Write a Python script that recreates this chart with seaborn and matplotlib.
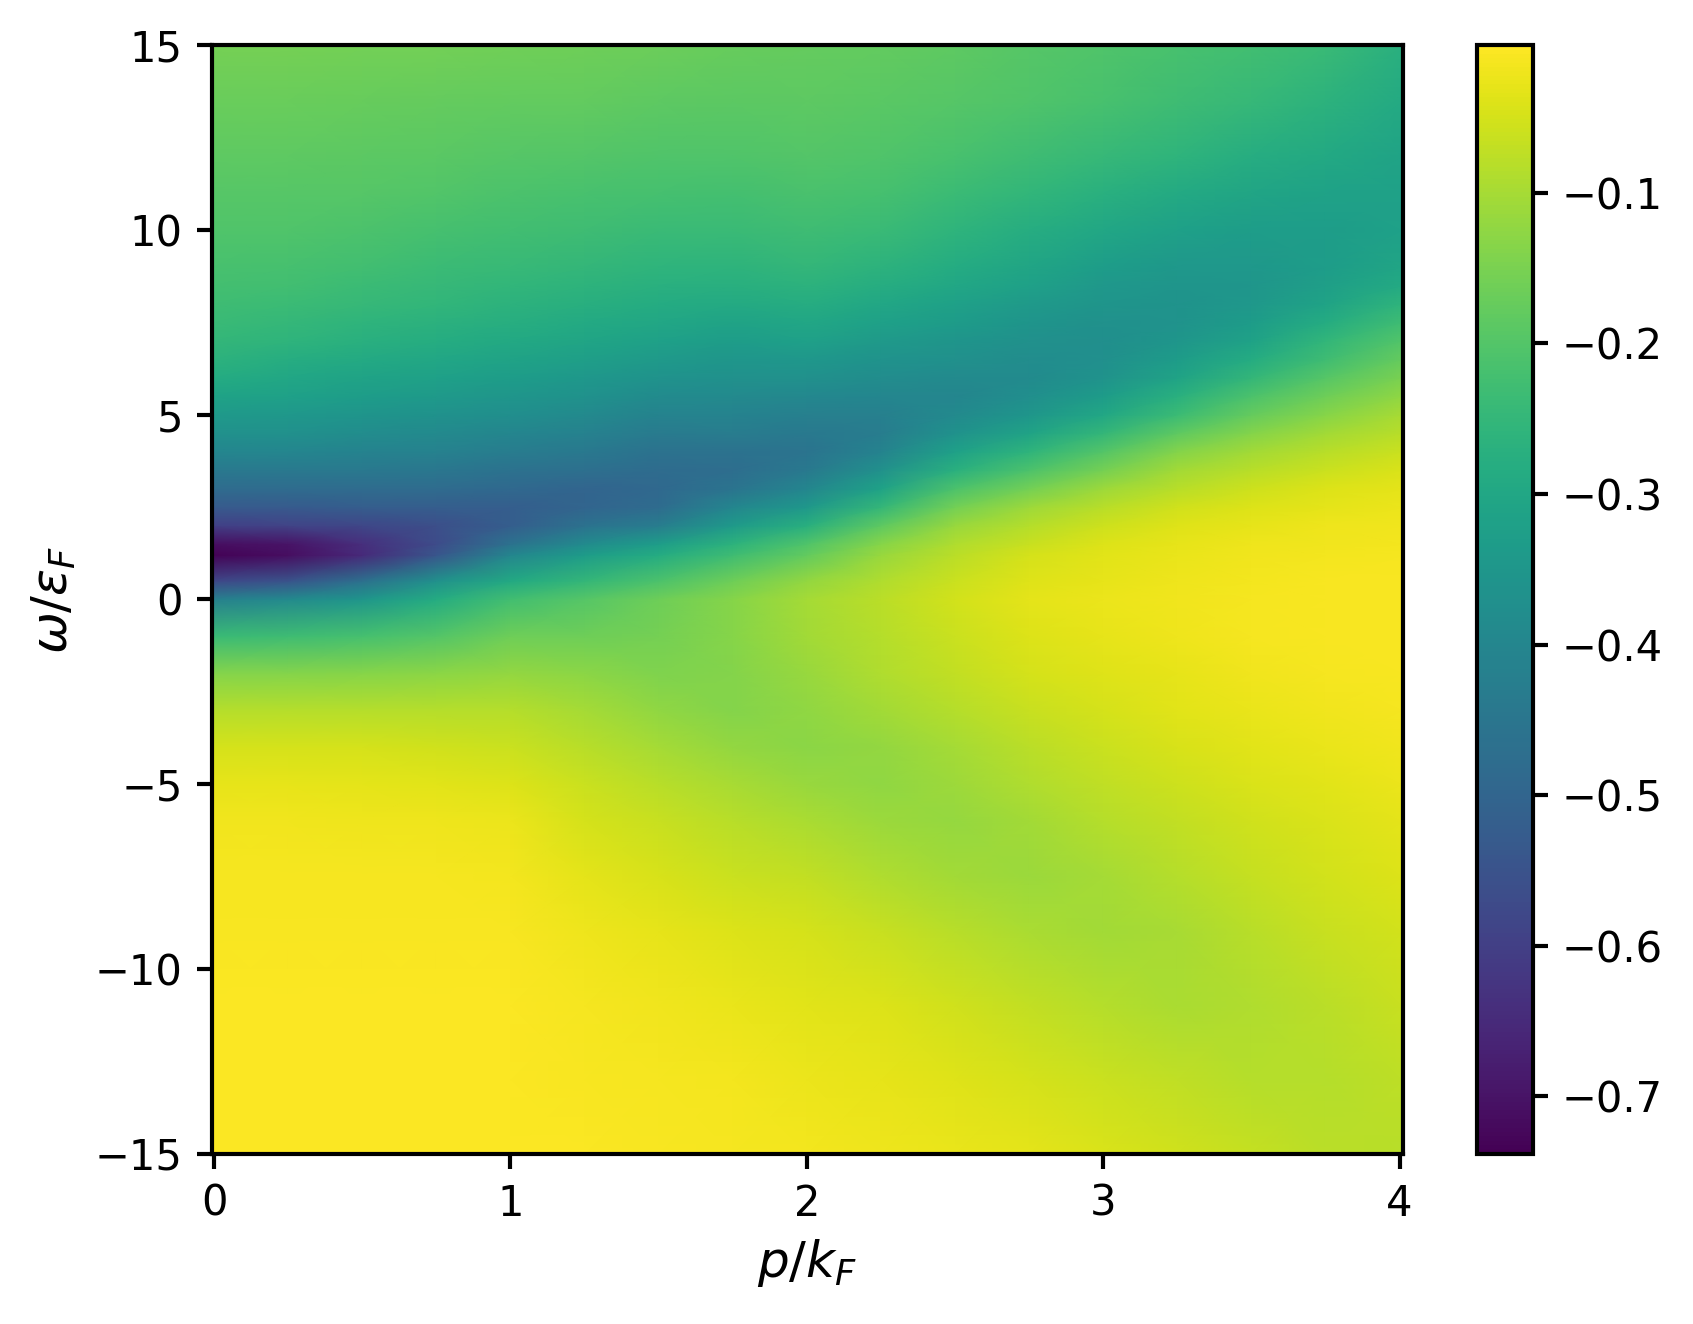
import numpy as np
import matplotlib
matplotlib.use("Agg")
import matplotlib.pyplot as plt
import seaborn as sns

p_vals = [-0.007, 0.25, 0.5, 0.75, 1, 1.25, 1.5, 1.75, 2, 2.25, 2.5, 2.75, 3, 3.25, 3.5, 3.75, 4.01]
w_vals = [-15, -13, -11, -9, -7.5, -6, -5, -4, -3, -2, -1, 0, 0.5, 1.2, 1.5, 2, 2.5, 3, 3.5, 4, 4.5, 5, 5.5, 6, 6.5, 7, 7.5, 8, 8.5, 9, 10, 11, 12, 13.5, 15]

# values, one list per p column (omega rising)
s_p000 = [-.005,-.005,-.006,-.008,-.012,-.018,-.03,-.05,-.085,-.14,-.24,-.42,-.58,-.735,-.71,-.60,-.53,-.48,-.44,-.40,-.37,-.34,-.31,-.285,-.265,-.25,-.24,-.23,-.222,-.215,-.205,-.195,-.185,-.17,-.155]
s_p025 = [-.005,-.005,-.006,-.008,-.012,-.018,-.03,-.05,-.085,-.14,-.23,-.39,-.55,-.71,-.70,-.59,-.53,-.48,-.44,-.40,-.37,-.345,-.32,-.30,-.28,-.26,-.248,-.235,-.226,-.218,-.205,-.195,-.185,-.17,-.157]
s_p050 = [-.005,-.005,-.006,-.008,-.012,-.02,-.032,-.05,-.085,-.135,-.22,-.35,-.47,-.65,-.64,-.58,-.52,-.48,-.44,-.41,-.38,-.355,-.33,-.31,-.29,-.272,-.258,-.245,-.235,-.225,-.21,-.197,-.187,-.172,-.16]
s_p075 = [-.005,-.005,-.006,-.008,-.013,-.022,-.035,-.055,-.085,-.13,-.20,-.285,-.37,-.54,-.57,-.56,-.52,-.48,-.445,-.415,-.39,-.365,-.34,-.32,-.30,-.282,-.268,-.255,-.245,-.235,-.218,-.203,-.19,-.175,-.16]
s_p100 = [-.006,-.006,-.007,-.009,-.015,-.025,-.04,-.06,-.085,-.12,-.165,-.225,-.295,-.40,-.46,-.52,-.52,-.49,-.46,-.43,-.40,-.375,-.35,-.33,-.31,-.293,-.278,-.265,-.253,-.243,-.225,-.21,-.195,-.178,-.162]
s_p125 = [-.006,-.008,-.012,-.02,-.032,-.048,-.062,-.08,-.10,-.13,-.165,-.195,-.25,-.335,-.385,-.46,-.50,-.50,-.47,-.44,-.415,-.39,-.365,-.345,-.325,-.305,-.29,-.275,-.262,-.25,-.232,-.215,-.20,-.18,-.165]
s_p150 = [-.008,-.011,-.017,-.03,-.046,-.065,-.08,-.10,-.125,-.145,-.155,-.165,-.21,-.285,-.33,-.43,-.48,-.49,-.48,-.46,-.435,-.41,-.385,-.36,-.34,-.32,-.30,-.285,-.272,-.26,-.24,-.22,-.205,-.185,-.168]
s_p175 = [-.011,-.016,-.027,-.042,-.06,-.08,-.098,-.12,-.14,-.14,-.135,-.135,-.165,-.23,-.265,-.34,-.40,-.455,-.475,-.46,-.43,-.41,-.39,-.37,-.35,-.33,-.31,-.29,-.275,-.262,-.24,-.222,-.205,-.188,-.172]
s_p200 = [-.015,-.023,-.035,-.05,-.07,-.095,-.115,-.13,-.125,-.115,-.105,-.10,-.12,-.18,-.205,-.275,-.345,-.40,-.44,-.455,-.44,-.42,-.395,-.37,-.345,-.32,-.30,-.28,-.265,-.25,-.23,-.212,-.20,-.185,-.175]
s_p225 = [-.02,-.03,-.042,-.065,-.09,-.112,-.125,-.12,-.105,-.09,-.085,-.078,-.09,-.115,-.135,-.185,-.25,-.315,-.37,-.41,-.43,-.42,-.40,-.38,-.36,-.34,-.32,-.30,-.28,-.265,-.24,-.22,-.205,-.19,-.18]
s_p250 = [-.026,-.038,-.055,-.08,-.105,-.118,-.11,-.10,-.085,-.07,-.06,-.052,-.06,-.078,-.09,-.115,-.16,-.21,-.27,-.32,-.365,-.39,-.40,-.39,-.37,-.355,-.335,-.32,-.30,-.285,-.26,-.235,-.215,-.195,-.185]
s_p275 = [-.033,-.048,-.07,-.095,-.113,-.105,-.09,-.078,-.065,-.05,-.04,-.033,-.037,-.05,-.065,-.085,-.11,-.16,-.21,-.26,-.31,-.35,-.375,-.385,-.38,-.37,-.355,-.34,-.32,-.305,-.28,-.255,-.23,-.205,-.195]
s_p300 = [-.045,-.06,-.085,-.105,-.10,-.085,-.072,-.06,-.048,-.038,-.03,-.025,-.028,-.035,-.042,-.058,-.08,-.11,-.155,-.20,-.25,-.30,-.335,-.36,-.372,-.375,-.37,-.355,-.345,-.33,-.30,-.27,-.245,-.215,-.205]
s_p325 = [-.055,-.072,-.095,-.097,-.085,-.07,-.058,-.047,-.036,-.028,-.02,-.018,-.02,-.026,-.03,-.037,-.055,-.08,-.105,-.14,-.185,-.235,-.27,-.31,-.335,-.35,-.36,-.36,-.355,-.345,-.32,-.29,-.26,-.23,-.215]
s_p350 = [-.068,-.085,-.09,-.08,-.068,-.055,-.045,-.035,-.026,-.018,-.013,-.012,-.014,-.018,-.022,-.028,-.04,-.057,-.08,-.105,-.14,-.175,-.21,-.25,-.285,-.315,-.335,-.345,-.35,-.345,-.33,-.305,-.28,-.245,-.225]
s_p375 = [-.078,-.085,-.078,-.065,-.053,-.043,-.034,-.026,-.018,-.012,-.009,-.008,-.01,-.014,-.017,-.022,-.032,-.042,-.062,-.08,-.105,-.135,-.165,-.195,-.23,-.255,-.285,-.31,-.325,-.33,-.33,-.315,-.295,-.265,-.24]
s_p400 = [-.08,-.075,-.065,-.052,-.042,-.033,-.025,-.018,-.013,-.01,-.008,-.008,-.009,-.012,-.015,-.018,-.024,-.033,-.045,-.06,-.08,-.097,-.125,-.15,-.175,-.203,-.23,-.26,-.29,-.305,-.32,-.32,-.31,-.29,-.27]

columns = [s_p000, s_p025, s_p050, s_p075, s_p100, s_p125, s_p150, s_p175, s_p200,
           s_p225, s_p250, s_p275, s_p300, s_p325, s_p350, s_p375, s_p400]
x_ticks = [0, 1, 2, 3, 4]
y_ticks = [-15, -10, -5, 0, 5, 10, 15]
cbar_ticks = [-0.1, -0.2, -0.3, -0.4, -0.5, -0.6, -0.7]

sns.set_style("ticks")
plt.rcParams["font.family"] = ["DejaVu Sans"]
plt.rcParams["mathtext.fontset"] = "dejavusans"
plt.rcParams["text.color"] = "black"
plt.rcParams["axes.labelcolor"] = "black"

W, H = 1693, 1324
fig = plt.figure(figsize=(W / 300, H / 300), dpi=300)
ax = fig.add_axes([212 / W, 1 - 1153.5 / H, (1402.5 - 212) / W, (1153.5 - 45.3) / H])
cax = fig.add_axes([1477 / W, 1 - 1153.5 / H, (1532.5 - 1477) / W, (1153.5 - 45.3) / H])

Z = np.array(columns).T
cmap = sns.color_palette("viridis", as_cmap=True)
mesh = ax.pcolormesh(p_vals, w_vals, Z, shading="gouraud", cmap=cmap, vmin=-0.738, vmax=-0.002, rasterized=True)
ax.set_xlim(-0.007, 4.01)
ax.set_ylim(-15, 15)
ax.set_xticks(x_ticks)
ax.set_yticks(y_ticks)
ax.set_xlabel(r"$p/k_F$", fontsize=12, labelpad=3)
ax.set_ylabel(r"$\omega/\varepsilon_F$", fontsize=12, labelpad=4)
ax.tick_params(labelsize=10, length=3.5, width=1.0, color="black", labelcolor="black")
for s in ax.spines.values():
    s.set_visible(True)
    s.set_linewidth(1.0)
    s.set_color("black")

cb = fig.colorbar(mesh, cax=cax)
cb.set_ticks(cbar_ticks)
cb.ax.tick_params(labelsize=10, length=3.5, width=1.0, color="black", labelcolor="black")
cb.outline.set_linewidth(1.0)
cb.outline.set_edgecolor("black")

fig.savefig("out.png", dpi=300)
